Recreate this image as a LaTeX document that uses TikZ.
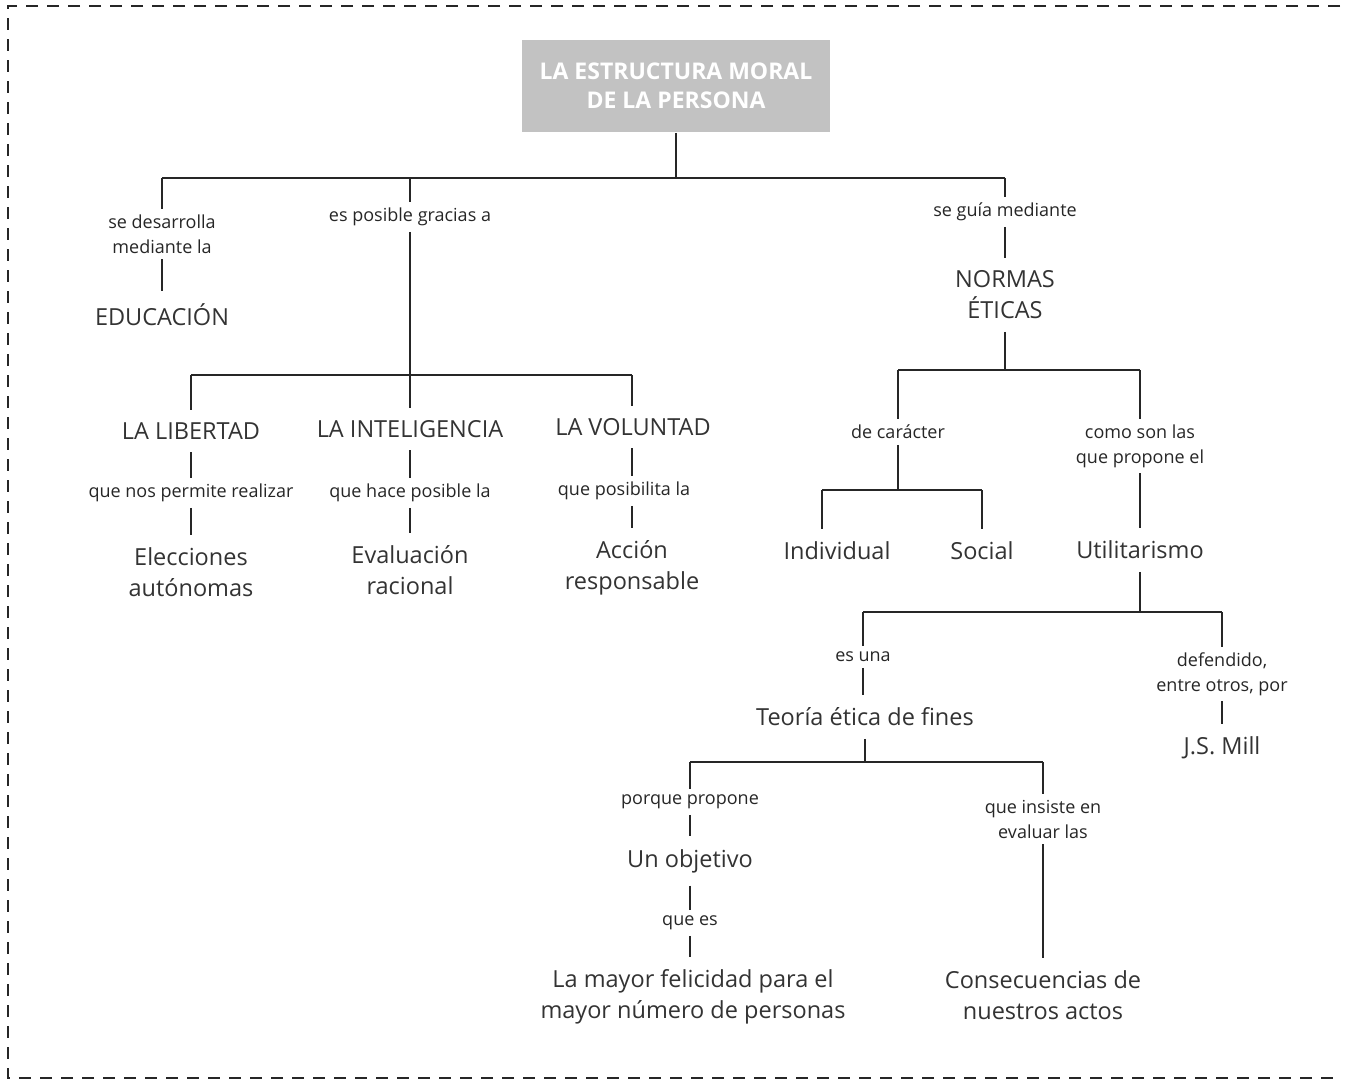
\documentclass[tikz,border=0pt]{standalone}
\usepackage{fontspec}
\setmainfont{Open Sans}
\usetikzlibrary{positioning}

\tikzset{
  concept/.style={align=center, font=\fontsize{23.5}{31}\selectfont, text=black!80, inner xsep=4pt, inner ysep=12pt},
  linkword/.style={align=center, font=\fontsize{18}{25}\selectfont, text=black!85, inner sep=5pt},
  titlebox/.style={fill=black!24, text=white, align=center,
    font=\bfseries\fontsize{23}{29}\selectfont, minimum width=308pt, minimum height=92pt},
}

\begin{document}
\begin{tikzpicture}[x=1pt,y=-1pt,line width=1.7pt,draw=black!85]
\useasboundingbox (0,0) rectangle (1348,1084);
% frame
\draw[line width=1.6pt,dash pattern=on 12pt off 9pt] (1340,6) -- (8,6) -- (8,1078) -- (1340,1078);

% title
\node[titlebox] (moral) at (676,86) {LA ESTRUCTURA MORAL\\DE LA PERSONA};

% first level
\node[linkword] (lEdu) at (162,234) {se desarrolla\\mediante la};
\node[concept] (edu) at (162,315) {EDUCACIÓN};
\node[linkword] (lPos) at (410,217) {es posible gracias a};
\node[linkword] (lGuia) at (1005,212) {se guía mediante};
\node[concept] (normas) at (1005,295) {NORMAS\\ÉTICAS};

\coordinate (brEdu) at (162,178);
\coordinate (brPos) at (410,178);
\coordinate (brNorm) at (1005,178);
\draw (moral) -- (moral.south |- brEdu);
\draw (brEdu) -- (brNorm);
\draw (brEdu) -- (lEdu);
\draw (lEdu) -- (edu);
\draw (brPos) -- (lPos);
\draw (brNorm) -- (lGuia);
\draw (lGuia) -- (normas);

% faculties
\node[concept] (lib) at (191,431) {LA LIBERTAD};
\node[linkword] (lLib) at (191,493) {que nos permite realizar};
\node[concept] (elec) at (191,572) {Elecciones\\autónomas};
\node[concept] (intel) at (410,429) {LA INTELIGENCIA};
\node[linkword] (lInt) at (410,493) {que hace posible la};
\node[concept] (eval) at (410,570) {Evaluación\\racional};
\node[concept] (vol) at (633,427) {LA VOLUNTAD};
\node[linkword] (lVol) at (624,491) {que posibilita la};
\node[concept] (acc) at (632,568) {Acción\\responsable};

\coordinate (brLib) at (191,375);
\coordinate (brInt) at (410,375);
\coordinate (brVol) at (632,375);
\draw (lPos) -- (brInt);
\draw (brLib) -- (brVol);
\draw (brLib) -- (lib);
\draw (brInt) -- (intel);
\draw (brVol) -- (brVol |- vol.north);
\draw (lib) -- (lLib) -- (elec);
\draw (intel) -- (lInt) -- (eval);
\draw (brVol |- vol.south) -- (brVol |- lVol.north);
\draw (brVol |- lVol.south) -- (brVol |- acc.north);

% norms
\node[linkword] (lCar) at (898,432) {de carácter};
\node[linkword] (lComo) at (1140,446) {como son las\\que propone el};
\node[concept] (indiv) at (837,551) {Individual};
\node[concept] (social) at (982,551) {Social};
\node[concept] (util) at (1140,550) {Utilitarismo};

\coordinate (brCar) at (898,370);
\coordinate (brComo) at (1140,370);
\coordinate (brInd) at (822,490);
\coordinate (brSoc) at (982,490);
\draw (normas) -- (normas |- brCar);
\draw (brCar) -- (brComo);
\draw (brCar) -- (lCar);
\draw (brComo) -- (lComo);
\draw (lCar) -- (lCar |- brInd);
\draw (brInd) -- (brSoc);
\draw (brInd) -- (brInd |- indiv.north);
\draw (brSoc) -- (social);
\draw (lComo) -- (util);

% utilitarianism
\node[linkword] (lEs) at (863,657) {es una};
\node[concept] (teoria) at (865,717) {Teoría ética de fines};
\node[linkword] (lDef) at (1222,674) {defendido,\\entre otros, por};
\node[concept] (mill) at (1222,748) {J.S. Mill};

\coordinate (brEs) at (863,612);
\coordinate (brDef) at (1222,612);
\draw (util) -- (util |- brEs);
\draw (brEs) -- (brDef);
\draw (brEs) -- (lEs);
\draw (lEs) -- (lEs |- teoria.north);
\draw (brDef) -- (lDef);
\draw (lDef) -- (mill);

% theory of ends
\node[linkword] (lPorq) at (690,802) {porque propone};
\node[concept] (objetivo) at (690,861) {Un objetivo};
\node[linkword] (lQuees) at (690,923) {que es};
\node[concept] (felic) at (693,997) {La mayor felicidad para el\\mayor número de personas};
\node[linkword] (lIns) at (1043,819) {que insiste en\\evaluar las};
\node[concept] (consec) at (1043,995) {Consecuencias de\\nuestros actos};

\coordinate (brObj) at (690,762);
\coordinate (brIns) at (1043,762);
\draw (teoria) -- (teoria |- brObj);
\draw (brObj) -- (brIns);
\draw (brObj) -- (lPorq);
\draw (brIns) -- (lIns);
\draw (lPorq) -- (objetivo);
\draw (objetivo) -- (lQuees);
\draw (lQuees) -- (lQuees |- felic.north);
\draw (lIns) -- (consec);
\end{tikzpicture}
\end{document}
